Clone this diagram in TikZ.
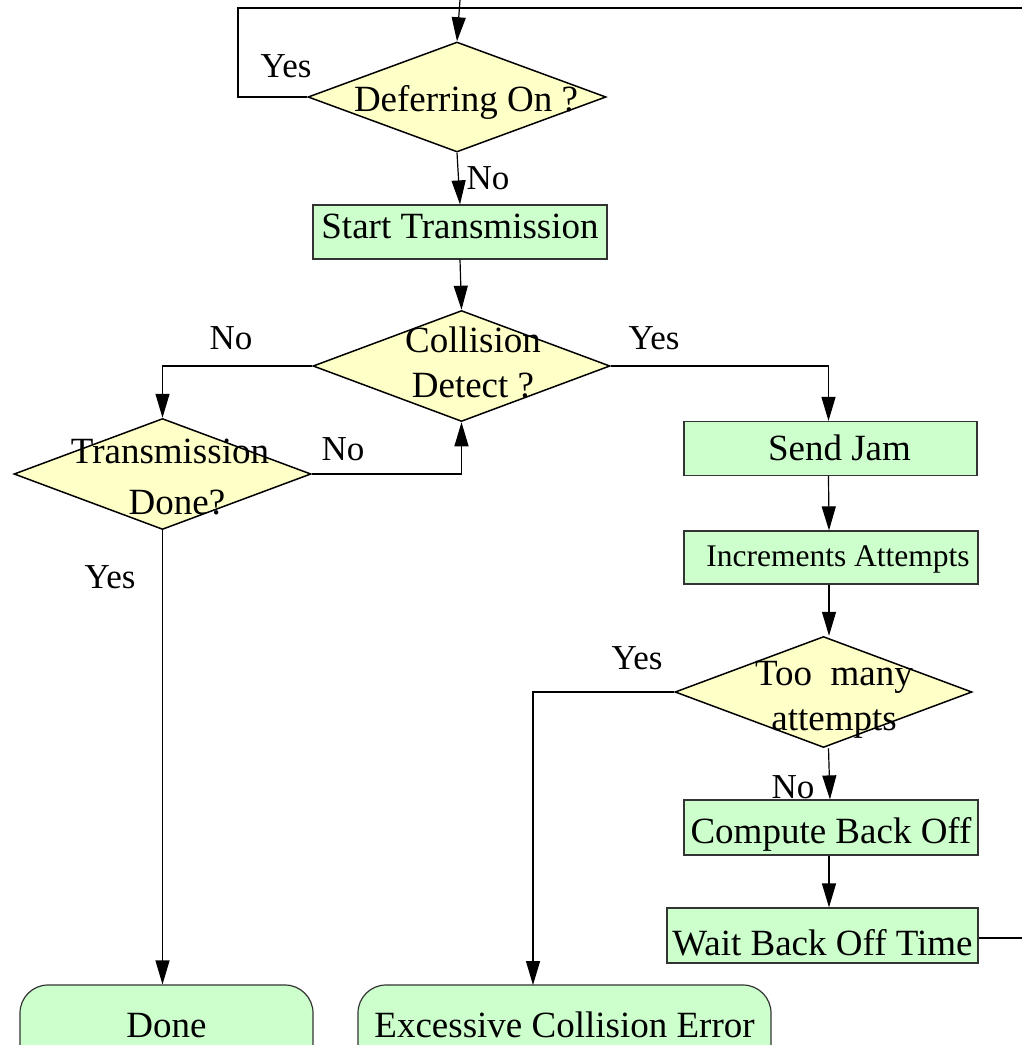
\documentclass[tikz,border=0pt]{standalone}
\usepackage{fontspec}
\setmainfont{Liberation Serif}
\usetikzlibrary{shapes.geometric,arrows.meta}
\definecolor{dyellow}{HTML}{FFFFC8}
\definecolor{bgreen}{HTML}{CCFFCC}
\tikzset{
  line/.style={line width=1.2pt,draw=black},
  arr/.style={line, -{Triangle[length=24pt,width=14pt]}},
  dia/.style={diamond, draw=black, line width=1.5pt, fill=dyellow, inner sep=0pt, minimum width=297pt, minimum height=111pt},
  procbox/.style={rectangle, draw=black!80, line width=1.2pt, fill=bgreen, inner sep=0pt, minimum height=54pt, text height=26pt, text depth=8pt},
  termbox/.style={rectangle, rounded corners=28pt, draw=black!80, line width=1.2pt, fill=bgreen, inner sep=0pt, minimum height=86pt, text height=26pt, text depth=8pt},
  txt/.style={font=\fontsize{37}{45}\selectfont, align=center, inner sep=0pt},
  lbl/.style={font=\fontsize{35}{42}\selectfont, inner sep=0pt},
}
\begin{document}
\begin{tikzpicture}[x=1pt,y=-1pt]
\useasboundingbox (0,0) rectangle (1022,1045);
\clip (0,0) rectangle (1022,1045);
\fill[white] (0,0) rectangle (1022,1045);

% decisions
\node[dia, minimum width=298pt, minimum height=110pt] (d1) at (457,97) {};
\node[txt] (d1t) at (466,102) {Deferring On ?};
\node[dia] (d2) at (461.5,366) {};
\node[txt] (d2t) at (473,362) {Collision\\Detect ?};
\node[dia] (d3) at (162.5,474) {};
\node[txt, font=\fontsize{37}{51}\selectfont] (d3t) at (170,477) {Transmission\\\hspace*{14pt}Done?};
\node[dia] (d4) at (823.5,692) {};
\node[txt] (d4t) at (834,700) {Too\ \ many\\attempts};

% process boxes
\node[procbox, minimum width=294pt, font=\fontsize{37}{45}\selectfont] (start) at (460,232) {\raisebox{3pt}{Start Transmission}};
\node[procbox, minimum width=293pt, font=\fontsize{37}{45}\selectfont] (jam) at (830.5,448.5) {\hspace*{18pt}\raisebox{-3pt}{Send Jam}};
\node[procbox, minimum width=294pt, minimum height=53pt, font=\fontsize{31.5}{38}\selectfont] (inc) at (831,557.5) {\hspace*{14pt}Increments Attempts};
\node[procbox, minimum width=294pt, minimum height=55pt, font=\fontsize{37}{45}\selectfont] (comp) at (831,827.5) {\raisebox{-7pt}{Compute Back Off}};
\node[procbox, minimum width=311pt, minimum height=55pt, font=\fontsize{37}{45}\selectfont] (wait) at (822.5,935.5) {\raisebox{-11pt}{Wait Back Off Time}};

% terminals
\node[termbox, minimum width=293pt, font=\fontsize{37}{45}\selectfont] (done) at (166.5,1028) {Done};
\node[termbox, minimum width=413pt, font=\fontsize{37}{45}\selectfont] (exc) at (564.5,1028) {Excessive Collision Error};

% free ends
\coordinate (topin) at (460,0);
\coordinate (tl) at (238,8);
\coordinate (tr) at (1022,8);
\coordinate (wr) at (1022,938);
\coordinate (ex) at (533,985);

% connectors
\draw[line] (d1.west) -| (tl) -- (tr);
\draw[arr] (topin) -- (d1.north);
\draw[arr] (d1.south) -- (start.north);
\draw[arr] (start.south) -- (d2.north);
\draw[arr] (d2.west) -| (d3.north);
\draw[arr] (d3.east) -| (d2.south);
\draw[arr] (d3.south) -- (d3.south |- done.north);
\draw[arr] (d2.east) -| ([xshift=-2pt]jam.north);
\draw[arr] ([xshift=-2pt]jam.south) -- ([xshift=-2pt]inc.north);
\draw[arr] ([xshift=-2pt]inc.south) -- ([xshift=-2pt]inc.south |- d4.north);
\draw[arr] ([xshift=5pt]d4.south) -- ([xshift=-1pt]comp.north);
\draw[arr] (d4.west) -| (ex);
\draw[arr] ([xshift=-2pt]comp.south) -- ([xshift=-2pt]comp.south |- wait.north);
\draw[line] (wait.east |- wr) -- (wr);

% branch labels
\node[lbl] (l1) at (286,66) {Yes};
\node[lbl] (l2) at (488,178) {No};
\node[lbl] (l3) at (231,338) {No};
\node[lbl] (l4) at (654,338) {Yes};
\node[lbl] (l5) at (343,449) {No};
\node[lbl] (l6) at (110,577) {Yes};
\node[lbl] (l7) at (637,658) {Yes};
\node[lbl] (l8) at (793,787) {No};
\end{tikzpicture}
\end{document}
